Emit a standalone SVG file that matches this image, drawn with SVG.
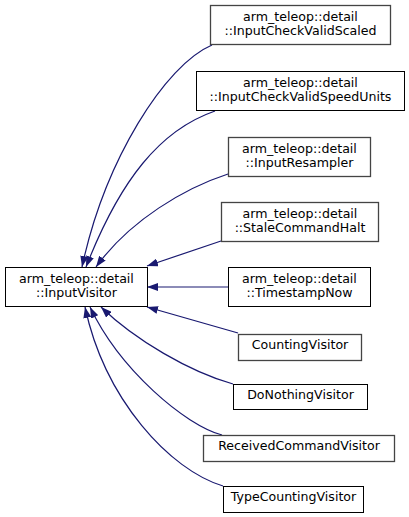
<svg xmlns="http://www.w3.org/2000/svg" width="409" height="517" viewBox="0 0 409 517">
<style>
.n rect{fill:#ffffff;stroke:#000000;stroke-width:1}
.n.g rect{stroke:#444444;stroke-width:1.3}
.n text{font-family:"DejaVu Sans",sans-serif;font-size:12.6px;fill:#000000;text-anchor:middle}
.e path{fill:none;stroke:#191970;stroke-width:1.2}
</style>
<defs>
<marker id="ah" viewBox="0 0 11 8" refX="11" refY="4" markerWidth="11" markerHeight="8" markerUnits="userSpaceOnUse" orient="auto">
<path d="M0,0 L11,4 L0,8 Z" fill="#191970"/>
</marker>
</defs>
<rect width="409" height="517" fill="#ffffff"/>
<g id="edges" class="e">
<path d="M212,45 C165,65 105,160 82,267" marker-end="url(#ah)"/>
<path d="M215,111 C160,130 120,180 86,267" marker-end="url(#ah)"/>
<path d="M228,174 C185,188 130,220 96,267" marker-end="url(#ah)"/>
<path d="M221,241 L147,266" marker-end="url(#ah)"/>
<path d="M228,287 L147,287" marker-end="url(#ah)"/>
<path d="M238,333 L147,307" marker-end="url(#ah)"/>
<path d="M233,384 C190,372 135,340 101,307" marker-end="url(#ah)"/>
<path d="M222,435 C185,425 120,370 90,307" marker-end="url(#ah)"/>
<path d="M223,486 C170,470 105,400 85,307" marker-end="url(#ah)"/>
</g>
<g id="InputVisitor" class="n"><rect x="5.5" y="267.5" width="142" height="39"/><text x="76.5" y="283">arm_teleop::detail</text><text x="76.5" y="297">::InputVisitor</text></g>
<g id="InputCheckValidScaled" class="n g"><rect x="210.5" y="5.5" width="180" height="39"/><text x="300.5" y="21">arm_teleop::detail</text><text x="300.5" y="35">::InputCheckValidScaled</text></g>
<g id="InputCheckValidSpeedUnits" class="n"><rect x="196.5" y="71.5" width="208" height="39"/><text x="300.5" y="87">arm_teleop::detail</text><text x="300.5" y="101">::InputCheckValidSpeedUnits</text></g>
<g id="InputResampler" class="n g"><rect x="228.5" y="137.5" width="142" height="39"/><text x="299.5" y="153">arm_teleop::detail</text><text x="299.5" y="167">::InputResampler</text></g>
<g id="StaleCommandHalt" class="n g"><rect x="221.5" y="202.5" width="157" height="39"/><text x="300" y="218">arm_teleop::detail</text><text x="300" y="232">::StaleCommandHalt</text></g>
<g id="TimestampNow" class="n"><rect x="228.5" y="267.5" width="142" height="39"/><text x="299.5" y="283">arm_teleop::detail</text><text x="299.5" y="297">::TimestampNow</text></g>
<g id="CountingVisitor" class="n g"><rect x="238.5" y="334.5" width="123" height="26"/><text x="300" y="349">CountingVisitor</text></g>
<g id="DoNothingVisitor" class="n"><rect x="233.5" y="384.5" width="134" height="25"/><text x="300.5" y="399">DoNothingVisitor</text></g>
<g id="ReceivedCommandVisitor" class="n g"><rect x="203.5" y="435.5" width="191" height="26"/><text x="299" y="450">ReceivedCommandVisitor</text></g>
<g id="TypeCountingVisitor" class="n"><rect x="223.5" y="486.5" width="140" height="26"/><text x="293.5" y="501">TypeCountingVisitor</text></g>
</svg>
